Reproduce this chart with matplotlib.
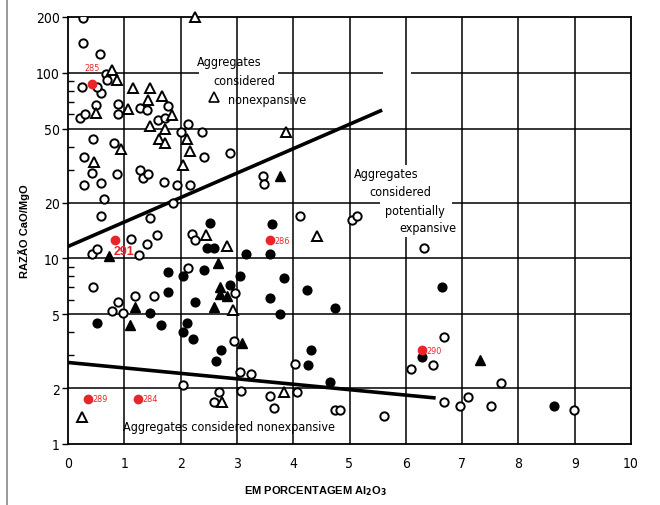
import matplotlib
matplotlib.use("Agg")
import matplotlib.pyplot as plt
from matplotlib.lines import Line2D

# CaO/MgO ratio versus Al2O3 content for carbonate aggregates

open_circle_x = [0.27, 0.27, 0.56, 0.67, 0.69, 0.58, 0.52, 0.24, 0.50, 0.21, 0.30, 0.88, 0.88,
                 1.27, 1.41, 1.78, 1.59, 1.73, 2.14, 2.00, 2.38, 2.42, 2.87, 0.45, 0.82, 0.28,
                 0.28, 0.42, 0.58, 0.64, 0.58, 0.87, 1.28, 1.33, 1.42, 1.71, 1.94, 2.16, 1.87,
                 1.45, 1.12, 1.58, 1.41, 0.43, 0.52, 1.26, 2.20, 2.26, 2.14, 0.45, 1.52, 1.19,
                 0.88, 0.78, 0.97, 2.97, 3.46, 3.49, 4.12, 5.04, 5.14, 6.32, 2.95, 4.03, 3.05,
                 3.25, 2.05, 2.69, 3.07, 3.58, 4.07, 2.60, 3.66, 4.75, 4.84, 5.61, 6.09, 6.48,
                 6.68, 6.68, 6.96, 7.11, 7.69, 7.51, 8.98]
open_circle_y = [197, 145, 126, 99, 91, 78, 84, 84, 67, 57, 60, 68, 60,
                 65, 63, 66, 56, 57, 53, 48, 48, 35, 37, 44, 42, 35,
                 25, 29, 25.5, 21, 17, 28.5, 30, 27, 28.6, 25.7, 25, 24.9, 19.9,
                 16.6, 12.8, 13.3, 12, 10.6, 11.3, 10.4, 13.5, 12.5, 8.9, 7.0, 6.3, 6.3,
                 5.8, 5.2, 5.1, 6.5, 27.9, 25.3, 16.9, 16.1, 17.0, 11.4, 3.6, 2.7, 2.45,
                 2.38, 2.08, 1.91, 1.93, 1.82, 1.90, 1.69, 1.57, 1.53, 1.53, 1.41, 2.53, 2.66,
                 3.75, 1.69, 1.60, 1.80, 2.12, 1.60, 1.52]

open_tri_x = [2.25, 0.78, 0.87, 1.16, 1.45, 0.50, 1.07, 1.42, 1.67, 1.85, 1.46, 1.73, 2.12,
              2.17, 0.95, 0.46, 1.62, 1.73, 2.04, 3.87, 2.46, 2.82, 2.93, 4.42, 2.73, 3.83, 0.24]
open_tri_y = [200, 103, 91, 83, 83, 61, 64, 71, 75, 59, 52, 50, 44,
              38, 39, 33, 44, 42, 32, 48, 13.3, 11.6, 5.3, 13.2, 1.69, 1.91, 1.39]

filled_circle_x = [2.53, 2.47, 2.60, 3.16, 2.42, 1.78, 2.04, 1.77, 0.51, 1.46, 1.66, 2.11, 2.26,
                   2.88, 3.05, 3.62, 3.58, 3.84, 3.58, 3.76, 2.04, 2.22, 2.72, 2.62, 4.25, 4.75,
                   6.65, 4.31, 4.26, 4.66, 6.28, 8.64]
filled_circle_y = [15.6, 11.4, 11.4, 10.5, 8.7, 8.5, 8.0, 6.6, 4.5, 5.1, 4.4, 4.5, 5.8,
                   7.2, 8.0, 15.4, 10.6, 7.8, 6.1, 5.0, 4.0, 3.7, 3.2, 2.8, 6.8, 5.4,
                   7.0, 3.2, 2.66, 2.15, 2.93, 1.60]

filled_tri_x = [0.72, 2.67, 1.19, 1.10, 2.59, 2.70, 2.70, 2.82, 3.09, 3.77, 7.31]
filled_tri_y = [10.3, 9.5, 5.5, 4.4, 5.5, 7.0, 6.4, 6.3, 3.5, 27.9, 2.84]

# highlighted samples
red_x = [0.42, 0.84, 3.59, 0.36, 1.25, 6.29]
red_y = [87, 12.6, 12.5, 1.75, 1.75, 3.2]
red_labels = ["285", "291", "286", "289", "284", "290"]

# boundary lines between the fields
upper_x = [0.0, 5.58]
upper_y = [11.6, 63.0]
lower_x = [0.0, 6.53]
lower_y = [2.75, 1.77]

y_ticks = [1, 2, 5, 10, 20, 50, 100, 200]
x_ticks = list(range(11))

RED = "#e8262a"
ARIAL = ["Liberation Sans", "DejaVu Sans"]
narrow = dict(family="DejaVu Sans", fontstretch="condensed")

fig = plt.figure(figsize=(6.6, 5.06), dpi=100)
ax = fig.add_axes([68 / 660, 61 / 506, 563 / 660, 427 / 506])
ax.set_yscale("log")
ax.set_xlim(0, 10)
ax.set_ylim(1, 200)

# grid, left open where the field labels sit
grid = dict(color="black", lw=1.1, zorder=1)
for gx in [1, 2, 3, 4, 5, 7, 8, 9]:
    ax.axvline(gx, **grid)
ax.vlines(6, 32, 200, **grid)
ax.vlines(6, 1, 13, **grid)
for gy in [2, 5, 10, 50]:
    ax.axhline(gy, **grid)
ax.hlines(20, 0, 5.54, **grid)
ax.hlines(20, 6.82, 10, **grid)
ax.hlines(100, 0, 2.33, **grid)
ax.hlines(100, 3.73, 5.6, **grid)
ax.hlines(100, 6.1, 10, **grid)

ax.plot(upper_x, upper_y, color="black", lw=2.6, solid_capstyle="butt", zorder=2)
ax.plot(lower_x, lower_y, color="black", lw=2.6, solid_capstyle="butt", zorder=2)

ax.plot(open_circle_x, open_circle_y, "o", ms=6, mfc="white", mec="black", mew=1.4, ls="none", zorder=3)
ax.plot(open_tri_x, open_tri_y, "^", ms=7, mfc="white", mec="black", mew=1.4, ls="none",
        zorder=3, clip_on=False)
ax.plot(filled_circle_x, filled_circle_y, "o", ms=6.3, color="black", ls="none", zorder=3)
ax.plot(filled_tri_x, filled_tri_y, "^", ms=7.5, color="black", ls="none", zorder=3)
ax.plot(red_x, red_y, "o", ms=6, color=RED, ls="none", zorder=4)

for x, y, lab in zip(red_x, red_y, red_labels):
    if lab == "285":
        ax.annotate(lab, (x, y), xytext=(0, 9), textcoords="offset points", color=RED,
                    fontsize=6.5, ha="center", va="bottom", **narrow)
    elif lab == "291":
        ax.annotate(lab, (x, y), xytext=(-1, -4), textcoords="offset points", color=RED,
                    fontsize=9, fontweight="bold", ha="left", va="top", family=ARIAL)
    else:
        ax.annotate(lab, (x, y), xytext=(3, 0), textcoords="offset points", color=RED,
                    fontsize=6.5, ha="left", va="center", **narrow)

# field labels
txt = dict(fontsize=9, color="black", zorder=5, **narrow)
ax.text(2.29, 114.6, "Aggregates", ha="left", va="center", **txt)
ax.text(2.58, 90.6, "considered", ha="left", va="center", **txt)
ax.plot([2.59], [74.3], "^", ms=7, mfc="white", mec="black", mew=1.2, zorder=5)
ax.text(2.84, 71.6, "nonexpansive", ha="left", va="center", **txt)

ax.text(5.65, 28.6, "Aggregates", ha="center", va="center", **txt)
ax.text(5.90, 22.9, "considered", ha="center", va="center", **txt)
ax.text(6.16, 18.1, "potentially", ha="center", va="center", **txt)
ax.text(6.39, 14.7, "expansive", ha="center", va="center", **txt)

ax.text(0.98, 1.25, "Aggregates considered nonexpansive", ha="left", va="center",
        fontsize=9, color="black", zorder=5, **narrow)

# axes and ticks
ax.set_yticks(y_ticks)
ax.set_yticklabels([str(t) for t in y_ticks], fontsize=10, **narrow)
ax.set_xticks(x_ticks)
ax.set_xticklabels([str(t) for t in x_ticks], fontsize=10, **narrow)
ax.minorticks_off()
ax.set_yticks([3, 4, 6, 7, 8, 9, 30, 40, 60, 70, 80, 90], minor=True)
ax.tick_params(axis="y", which="major", length=4, width=1, direction="out", pad=2)
ax.tick_params(axis="y", which="minor", length=4, width=1, direction="in")
ax.tick_params(axis="y", which="minor", labelleft=False)
ax.tick_params(axis="x", which="major", length=0, pad=9)
for s in ax.spines.values():
    s.set_linewidth(1.3)
    s.set_color("black")

ax.set_ylabel("RAZÃO CaO/MgO", family=ARIAL, fontweight="bold", fontsize=8)
ax.yaxis.set_label_coords(-0.0675, 0.5)
ax.set_xlabel(r"EM PORCENTAGEM Al$_\mathbf{2}$O$_\mathbf{3}$", family=ARIAL,
              fontweight="bold", fontsize=8)
ax.xaxis.set_label_coords(0.44, -0.092)

# page edge at the left
fig.add_artist(Line2D([7 / 660, 7 / 660], [0, 1], color="#888888", lw=1.2))

fig.savefig("out.png", dpi=100, facecolor="white")
